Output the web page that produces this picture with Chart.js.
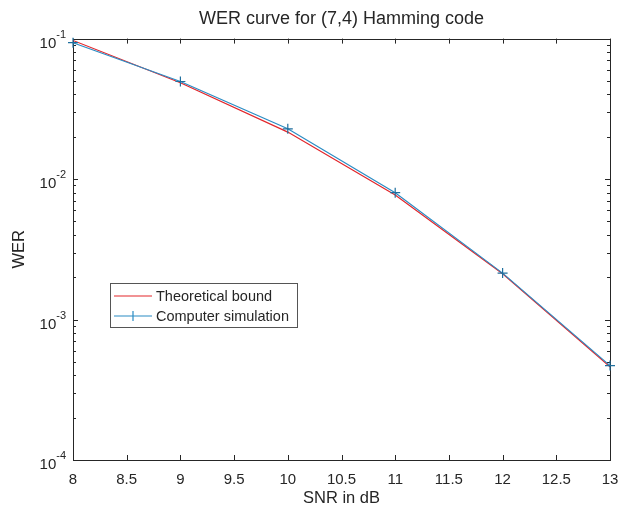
<!DOCTYPE html>
<html>
<head>
<meta charset="utf-8">
<script src="https://cdn.jsdelivr.net/npm/chart.js@4.4.0/dist/chart.umd.min.js"></script>
<style>
html, body { margin: 0; padding: 0; background: #fff; }
#wrap { width: 620px; height: 510px; }
</style>
</head>
<body>
<div id="wrap"><canvas id="werChart" width="620" height="510"></canvas></div>
<script>
// data
const snrValues = [8, 9, 10, 11, 12, 13];
const theoreticalWer = [0.097, 0.0485, 0.0216, 0.0077, 0.00212, 0.00046];
const simulatedWer = [0.0935, 0.0495, 0.0228, 0.0080, 0.00214, 0.00047];
const seriesNames = ['Theoretical bound', 'Computer simulation'];
const seriesColors = ['#e3262b', '#2b8cc4'];

const xTicks = [8, 8.5, 9, 9.5, 10, 10.5, 11, 11.5, 12, 12.5, 13];
const yDecades = [1e-4, 1e-3, 1e-2, 1e-1];
const yExponents = ['-4', '-3', '-2', '-1'];

const FONT = "'Liberation Sans', Arial, Helvetica, sans-serif";
const AXIS_COLOR = '#262626';

// MATLAB style box with inward ticks, power-of-ten labels and legend in the plot area
const matlabAxes = {
    id: 'matlabAxes',
    beforeDatasetsDraw(chart) {
        const ctx = chart.ctx;
        const a = chart.chartArea;
        const xs = chart.scales.x;
        const ys = chart.scales.y;
        ctx.save();
        ctx.strokeStyle = AXIS_COLOR;
        ctx.lineWidth = 1;

        ctx.beginPath();
        xTicks.forEach(v => {
            const px = Math.round(xs.getPixelForValue(v)) + 0.5;
            ctx.moveTo(px, a.bottom); ctx.lineTo(px, a.bottom - 5);
            ctx.moveTo(px, a.top); ctx.lineTo(px, a.top + 5);
        });
        yDecades.forEach((d, i) => {
            const py = Math.round(ys.getPixelForValue(d)) + 0.5;
            ctx.moveTo(a.left, py); ctx.lineTo(a.left + 5, py);
            ctx.moveTo(a.right, py); ctx.lineTo(a.right - 5, py);
            if (i < yDecades.length - 1) {
                for (let m = 2; m <= 9; m++) {
                    const my = Math.round(ys.getPixelForValue(m * d)) + 0.5;
                    ctx.moveTo(a.left, my); ctx.lineTo(a.left + 3, my);
                    ctx.moveTo(a.right, my); ctx.lineTo(a.right - 3, my);
                }
            }
        });
        ctx.stroke();

        ctx.strokeRect(Math.round(a.left) + 0.5, Math.round(a.top) + 0.5,
            Math.round(a.right - a.left), Math.round(a.bottom - a.top));

        // y tick labels: 10 with a raised exponent
        ctx.fillStyle = AXIS_COLOR;
        ctx.textBaseline = 'alphabetic';
        yDecades.forEach((d, i) => {
            const py = ys.getPixelForValue(d);
            ctx.font = '11px ' + FONT;
            const ew = ctx.measureText(yExponents[i]).width;
            const right = a.left - 7;
            ctx.textAlign = 'right';
            ctx.fillText(yExponents[i], right, py - 1);
            ctx.font = '15px ' + FONT;
            ctx.fillText('10', right - ew, py + 9);
        });
        ctx.restore();
    },
    afterDraw(chart) {
        const ctx = chart.ctx;
        ctx.save();
        // legend
        const lx = 110, ly = 283, lw = 187, lh = 44;
        ctx.textAlign = 'left';
        ctx.fillStyle = '#fff';
        ctx.fillRect(lx, ly, lw, lh);
        ctx.strokeStyle = '#555';
        ctx.lineWidth = 1;
        ctx.strokeRect(lx + 0.5, ly + 0.5, lw, lh);
        ctx.font = '14.5px ' + FONT;
        ctx.textBaseline = 'middle';
        seriesNames.forEach((name, i) => {
            const y = ly + 13 + i * 20;
            ctx.strokeStyle = seriesColors[i];
            ctx.lineWidth = 1.2;
            ctx.beginPath();
            ctx.moveTo(lx + 4, y); ctx.lineTo(lx + 42, y);
            if (i === 1) {
                ctx.moveTo(lx + 23, y - 5); ctx.lineTo(lx + 23, y + 5);
            }
            ctx.stroke();
            ctx.fillStyle = AXIS_COLOR;
            ctx.fillText(name, lx + 46, y + 1);
        });
        ctx.restore();
    }
};

const ctx = document.getElementById('werChart').getContext('2d');
const werChart = new Chart(ctx, {
    type: 'line',
    data: {
        datasets: [
            {
                label: seriesNames[0],
                data: snrValues.map((x, i) => ({ x: x, y: theoreticalWer[i] })),
                borderColor: seriesColors[0],
                borderWidth: 1.2,
                pointRadius: 0,
                order: 2
            },
            {
                label: seriesNames[1],
                data: snrValues.map((x, i) => ({ x: x, y: simulatedWer[i] })),
                borderColor: seriesColors[1],
                borderWidth: 1.2,
                pointStyle: 'cross',
                pointRadius: 5,
                pointBorderWidth: 1.2,
                pointBorderColor: '#1f6f9e',
                clip: 8,
                order: 1
            }
        ]
    },
    options: {
        responsive: false,
        animation: false,
        devicePixelRatio: 1,
        layout: { padding: { left: 0, right: 10, top: 0, bottom: 0 } },
        plugins: {
            legend: { display: false },
            tooltip: { enabled: false },
            title: {
                display: true,
                fullSize: false,
                text: 'WER curve for (7,4) Hamming code',
                color: AXIS_COLOR,
                font: { family: FONT, size: 18, weight: 'normal' },
                padding: { top: 8, bottom: 9 }
            }
        },
        scales: {
            x: {
                type: 'linear',
                min: 8,
                max: 13,
                afterBuildTicks: s => { s.ticks = xTicks.map(v => ({ value: v })); },
                afterFit: s => { s.height = 50; s.paddingLeft = 0; s.paddingRight = 0; },
                grid: { display: false, drawTicks: false },
                border: { display: false },
                ticks: {
                    color: AXIS_COLOR,
                    padding: 11,
                    maxRotation: 0,
                    autoSkip: false,
                    font: { family: FONT, size: 15 },
                    callback: v => String(v)
                },
                title: {
                    display: true,
                    text: 'SNR in dB',
                    color: AXIS_COLOR,
                    font: { family: FONT, size: 16.5 },
                    padding: { top: 0, bottom: 2 }
                }
            },
            y: {
                type: 'logarithmic',
                min: 1e-4,
                max: 1e-1,
                afterBuildTicks: s => { s.ticks = yDecades.map(v => ({ value: v })); },
                afterFit: s => { s.width = 73; s.paddingTop = 0; s.paddingBottom = 0; },
                grid: { display: false, drawTicks: false },
                border: { display: false },
                ticks: { display: false },
                title: {
                    display: true,
                    text: 'WER',
                    color: AXIS_COLOR,
                    font: { family: FONT, size: 16.5 },
                    padding: { top: 10, bottom: 0 }
                }
            }
        }
    },
    plugins: [matlabAxes]
});
</script>
</body>
</html>
